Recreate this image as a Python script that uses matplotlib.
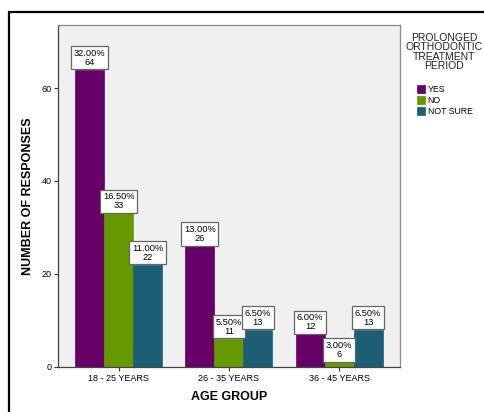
import matplotlib
matplotlib.use("Agg")
import matplotlib.pyplot as plt
from matplotlib.patches import Rectangle
import numpy as np

plt.rcParams['font.family'] = ['Liberation Sans', 'DejaVu Sans']

categories = ["18 - 25 YEARS", "26 - 35 YEARS", "36 - 45 YEARS"]
series_names = ["YES", "NO", "NOT SURE"]
# bar heights as drawn
yes_vals = [64, 26, 7]
no_vals = [33, 6, 1]
notsure_vals = [22, 8, 8]
# label texts as printed on the chart
yes_counts = [64, 26, 12]
no_counts = [33, 11, 6]
notsure_counts = [22, 13, 13]
yes_pct = ["32.00%", "13.00%", "6.00%"]
no_pct = ["16.50%", "5.50%", "3.00%"]
notsure_pct = ["11.00%", "6.50%", "6.50%"]
y_ticks = [0, 20, 40, 60]

colors = ["#660066", "#669900", "#1c5f74"]

W, H = 484, 412
fig = plt.figure(figsize=(W / 100, H / 100), dpi=100)
fig.patch.set_facecolor("white")

# outer black frame (cropped at right and bottom)
fig.patches.append(Rectangle((8.5 / W, -0.05), 1.2, 1 - 12 / H + 0.05,
                             transform=fig.transFigure, fill=False,
                             edgecolor="black", linewidth=1.6, zorder=0))

ax_l, ax_r, ax_t, ax_b = 58.3, 400, 25, 366.7
ax = fig.add_axes([ax_l / W, (H - ax_b) / H, (ax_r - ax_l) / W, (ax_b - ax_t) / H])
ax.set_facecolor("#f0f0f0")

x = np.arange(len(categories))
bw = 0.263
all_vals = [yes_vals, no_vals, notsure_vals]
all_counts = [yes_counts, no_counts, notsure_counts]
all_pct = [yes_pct, no_pct, notsure_pct]
handles = []
for i, (vals, cnts, pcts, c, name) in enumerate(zip(all_vals, all_counts, all_pct, colors, series_names)):
    pos = x + (i - 1) * bw
    b = ax.bar(pos, vals, width=bw, color=c, edgecolor=c, linewidth=0.5, label=name, zorder=2)
    handles.append(b)
    for px, v, cn, pc in zip(pos, vals, cnts, pcts):
        ax.annotate(f"{pc}\n{cn}", xy=(px, v), xytext=(0, 2.2), textcoords="offset points",
                    ha="center", va="bottom", fontsize=6.7, linespacing=1.0,
                    bbox=dict(boxstyle="square,pad=0.28", facecolor="white",
                              edgecolor="#666666", linewidth=0.9),
                    zorder=4)

ax.set_xlim(-0.548, 2.553)
ax.set_ylim(0, 73.6)
ax.set_yticks(y_ticks)
ax.set_yticklabels([str(t) for t in y_ticks], fontsize=6.5)
ax.set_xticks(x)
ax.set_xticklabels(categories, fontsize=6.5)
ax.tick_params(axis="both", length=3, width=0.8, color="#333333", pad=2)
for s in ["top", "right"]:
    ax.spines[s].set_color("#8a8a8a")
    ax.spines[s].set_linewidth(0.9)
for s in ["left", "bottom"]:
    ax.spines[s].set_color("#444444")
    ax.spines[s].set_linewidth(0.9)

fig.text(28 / W, 1 - 196 / H, "NUMBER OF RESPONSES", rotation=90, ha="center", va="center",
         fontsize=9, fontweight="bold")
fig.text(229 / W, 1 - 397 / H, "AGE GROUP", ha="center", va="center",
         fontsize=9, fontweight="bold")

fig.text(444 / W, 1 - 52 / H, "PROLONGED\nORTHODONTIC\nTREATMENT\nPERIOD",
         ha="center", va="center", fontsize=7.5, linespacing=0.92, color="#222222")

leg = fig.legend(handles=handles, labels=series_names, loc="upper left",
                 bbox_to_anchor=(411 / W, 1 - 79 / H), frameon=False, fontsize=6.3,
                 handlelength=0.9, handleheight=1.0, handletextpad=0.3,
                 labelspacing=0.2, borderpad=0.2)

fig.savefig("out.png", dpi=100)
